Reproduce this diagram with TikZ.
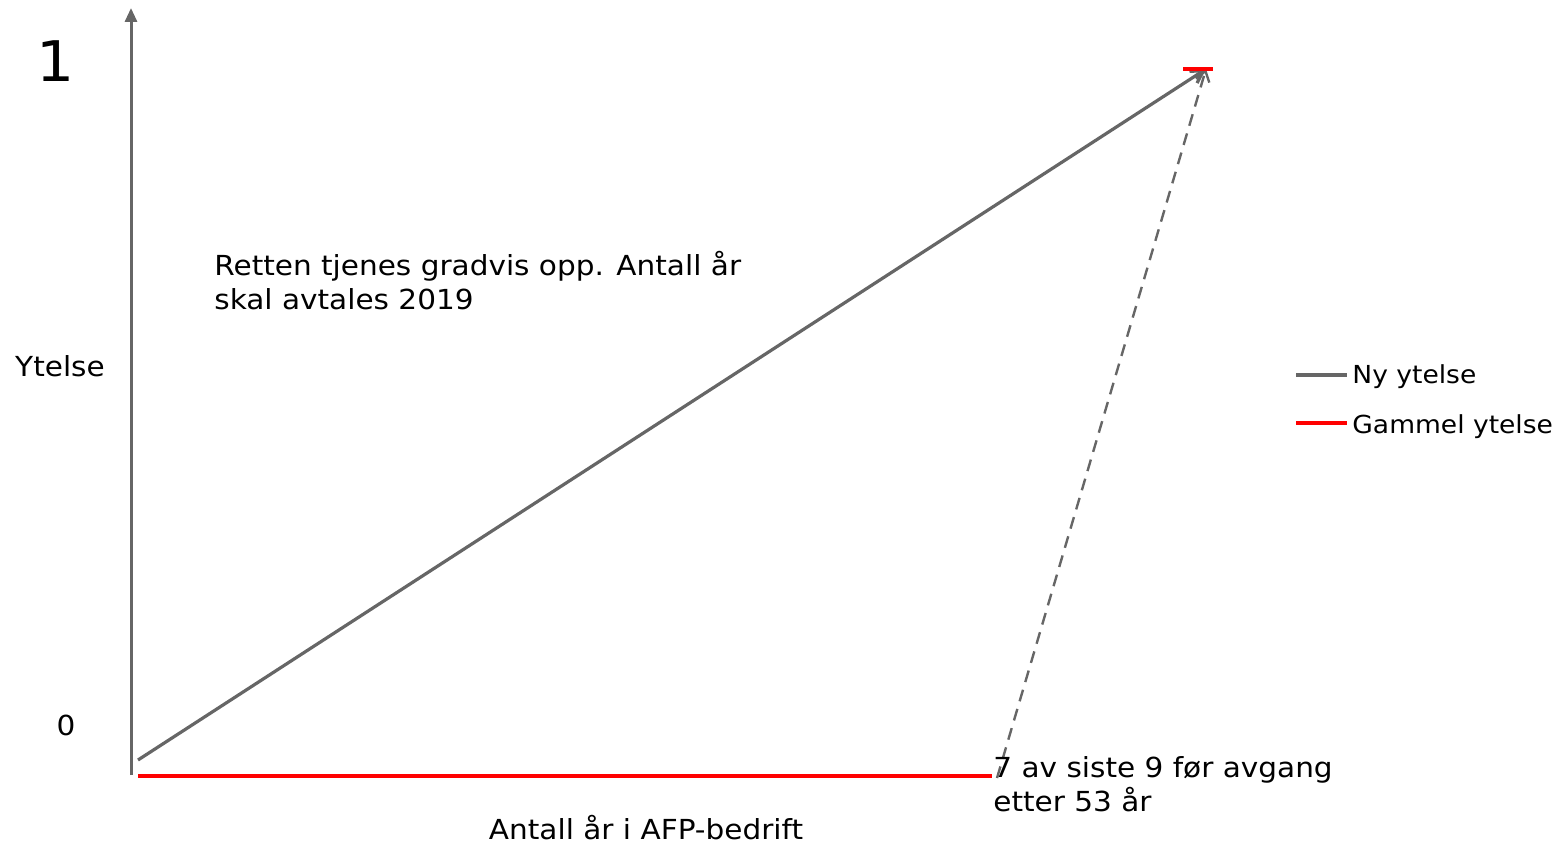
\documentclass[tikz,border=0pt]{standalone}
\usepackage{fontspec}
\setmainfont[FakeStretch=1.07]{DejaVu Sans}
\usetikzlibrary{arrows.meta}
\definecolor{lgray}{HTML}{666666}
\definecolor{lred}{HTML}{FF0000}
\begin{document}
\begin{tikzpicture}[x=0.5pt,y=-0.5pt,
  axisline/.style={draw=lgray,line width=1.5pt},
  newline/.style={draw=lgray,line width=1.6pt},
  oldline/.style={draw=lred,line width=2pt},
  lbl/.style={inner sep=0pt,anchor=base,font=\fontsize{13.8}{17}\selectfont},
  lbll/.style={lbl,anchor=base west,align=left},
  legtext/.style={lbll,font=\fontsize{12.4}{15}\selectfont}]
\useasboundingbox (0,0) rectangle (1557,844);
% axis
\coordinate (o) at (131,775);
\coordinate (ytop) at (131,8);
\draw[axisline,-{Triangle[length=7pt,width=6pt]}] (o) -- (ytop);
\node[inner sep=0pt,anchor=base,font=\fontsize{28}{34}\selectfont] (one) at (56,82) {1};
\node[lbl] (yl) at (60,377) {Ytelse};
\node[lbl] (zero) at (66,735) {0};
% lines
\coordinate (s) at (138,760);
\coordinate (tip) at (1206,69);
\draw[newline,-{Straight Barb[length=6pt,width=7pt]}] (s) -- (tip);
\coordinate (ds) at (997,778);
\draw[lgray,line width=1.2pt,dash pattern=on 6pt off 4pt,-{Straight Barb[length=5pt,width=7pt]}] (ds) -- (tip);
\coordinate (r1) at (138,776);
\coordinate (r2) at (992,776);
\draw[oldline] (r1) -- (r2);
\coordinate (t1) at (1183,69);
\coordinate (t2) at (1213,69);
\draw[oldline] (t1) -- (t2);
% texts (base anchor = last line)
\node[lbll] (note) at (214,310) {Retten tjenes gradvis opp. Antall år\\skal avtales 2019};
\node[lbll] (seven) at (993,811) {7 av siste 9 før avgang\\etter 53 år};
\node[lbl] (xl) at (646,839) {Antall år i AFP-bedrift};
% legend
\coordinate (l1a) at (1296,375);
\coordinate (l1b) at (1347,375);
\draw[newline] (l1a) -- (l1b);
\node[legtext] (leg1) at (1352,384) {Ny ytelse};
\coordinate (l2a) at (1296,423);
\coordinate (l2b) at (1347,423);
\draw[oldline] (l2a) -- (l2b);
\node[legtext] (leg2) at (1352,433) {Gammel ytelse};
\end{tikzpicture}
\end{document}
